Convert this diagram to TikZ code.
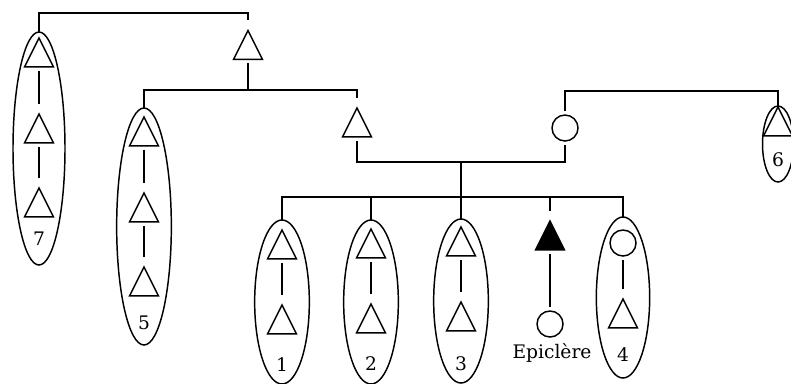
\documentclass[tikz,border=0pt]{standalone}
\usepackage{fontspec}
\setmainfont{DejaVu Serif}
\usetikzlibrary{shapes.geometric}

\tikzset{
  tri/.style={draw, isosceles triangle, shape border rotate=90, isosceles triangle stretches,
    minimum width=21.75pt, minimum height=21.75pt, inner sep=0pt, outer sep=3pt},
  circ/.style={draw, circle, minimum size=19.5pt, inner sep=0pt, outer sep=3pt},
  group/.style={draw, ellipse, inner sep=0pt, outer sep=0pt},
  lbl/.style={inner sep=0pt, font=\fontsize{14}{16}\selectfont},
}

\begin{document}
\begin{tikzpicture}[x=0.75pt,y=0.75pt,yscale=-1,xscale=1,line width=1.1pt]
\useasboundingbox (0,0) rectangle (791,383);

%Shape: Ellipses [groups]
\node[group, minimum width=39pt, minimum height=174.75pt] (e7) at (39,148.5) {};
\node[group, minimum width=41pt, minimum height=177.75pt] (e5) at (144,226.5) {};
\node[group, minimum width=41pt, minimum height=123pt] (e1) at (282,302) {};
\node[group, minimum width=41pt, minimum height=123pt] (e2) at (371,302) {};
\node[group, minimum width=41pt, minimum height=123pt] (e3) at (461,301) {};
\node[group, minimum width=40pt, minimum height=120.75pt] (e4) at (623,297.5) {};
\node[group, minimum width=23.25pt, minimum height=57pt] (e6) at (778,144) {};

%Shape: Triangles and circles of the tree
\node[tri] (tA) at (248,50.5) {};
\node[tri] (tB) at (357,128) {};
\node[circ] (cC) at (565,128) {};
\node[tri, fill=black] (fE) at (550,241) {};
\node[circ] (cE) at (550,324) {};

%Shape: inside group 7
\node[tri] (e7a) at (39,58) {};
\node[tri] (e7b) at (39,134) {};
\node[tri] (e7c) at (39,208) {};
%Shape: inside group 5
\node[tri] (e5a) at (144,137) {};
\node[tri] (e5b) at (144,213) {};
\node[tri] (e5c) at (144,287) {};
%Shape: inside groups 1, 2, 3
\node[tri] (e1a) at (282,250) {};
\node[tri] (e1b) at (282,325) {};
\node[tri] (e2a) at (371,249) {};
\node[tri] (e2b) at (371,324) {};
\node[tri] (e3a) at (461,247) {};
\node[tri] (e3b) at (461,322) {};
%Shape: inside group 4
\node[circ] (e4a) at (623,243) {};
\node[tri] (e4b) at (623,319) {};
%Shape: inside group 6
\node[tri] (e6a) at (778,127) {};

% Text Node
\node[lbl] (l7) at (39,239) {7};
\node[lbl] (l5) at (144,323) {5};
\node[lbl] (l1) at (282,365) {1};
\node[lbl] (l2) at (371,364) {2};
\node[lbl] (l3) at (461,364) {3};
\node[lbl] (l4) at (623,355) {4};
\node[lbl] (l6) at (778,160) {6};
\node[lbl] (lE) at (552,353) {Epiclère};

%Straight Lines [inside groups]
\draw (e7a) -- (e7b) (e7b) -- (e7c);
\draw (e5a) -- (e5b) (e5b) -- (e5c);
\draw (e1a) -- (e1b);
\draw (e2a) -- (e2b);
\draw (e3a) -- (e3b);
\draw (e4a) -- (e4b);
\draw (fE) -- (cE);

%Straight Lines [tree]
\coordinate (y1) at (0,13);
\coordinate (y2) at (0,90);
\coordinate (y3) at (0,162);
\coordinate (y4) at (0,197);
\coordinate (y5) at (0,91);
\draw (e7.north) -- (e7.north |- y1) -- (tA.north |- y1) -- (tA.north);
\draw (tA.south) -- (tA.south |- y2);
\draw (e5.north) -- (e5.north |- y2) -- (tB.north |- y2) -- (tB.north);
\draw (tB.south) -- (tB.south |- y3) -- (cC.south |- y3) -- (cC.south);
\draw (cC.north) -- (cC.north |- y5) -- (e6.north |- y5) -- (e6.north);
\draw (e3.north |- y3) -- (e3.north);
\draw (e1.north) -- (e1.north |- y4) -- (e4.north |- y4) -- (e4.north);
\draw (e2.north |- y4) -- (e2.north);
\draw (fE.north |- y4) -- (fE.north);
\end{tikzpicture}
\end{document}
